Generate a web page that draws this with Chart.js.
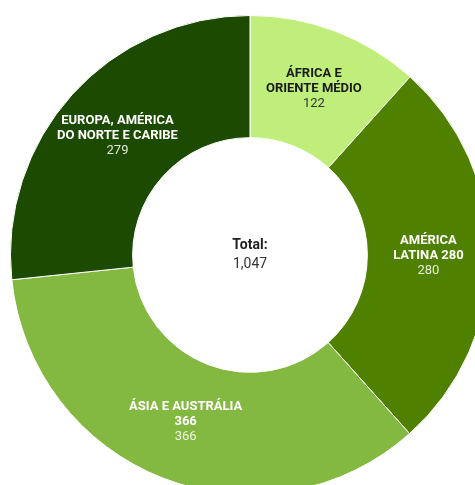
<!DOCTYPE html>
<html>
<head>
<meta charset="utf-8">
<script src="https://cdn.jsdelivr.net/npm/chart.js@4/dist/chart.umd.min.js"></script>
<style>
  html, body { margin: 0; padding: 0; background: #ffffff; overflow: hidden; }
  #wrap { position: absolute; left: 0; top: 0; width: 500px; height: 510px; }
</style>
</head>
<body>
<div id="wrap"><canvas id="chart" width="500" height="510"></canvas></div>
<script>
// Regions (label lines) and their values
const regionNames = [
  ["ÁFRICA E", "ORIENTE MÉDIO"],
  ["AMÉRICA", "LATINA 280"],
  ["ÁSIA E AUSTRÁLIA", "366"],
  ["EUROPA, AMÉRICA", "DO NORTE E CARIBE"]
];
const regionValues = [122, 280, 366, 279];
const regionColors = ["#bfee7b", "#508000", "#84b941", "#1b4a00"];
const nameColors = ["#1a1a1a", "#ffffff", "#ffffff", "#ffffff"];
const valueColors = ["#333333", "rgba(255,255,255,0.85)", "rgba(255,255,255,0.85)", "rgba(255,255,255,0.85)"];
const totalLabel = "Total:";

const FONT = "Roboto, 'Liberation Sans', sans-serif";

// Draws the region names and values on each slice, plus the total in the hole
const sliceLabels = {
  id: "sliceLabels",
  afterDatasetsDraw(chart) {
    const ctx = chart.ctx;
    const meta = chart.getDatasetMeta(0);
    const ds = chart.data.datasets[0];
    ctx.save();
    ctx.textAlign = "center";
    ctx.textBaseline = "middle";
    meta.data.forEach((arc, i) => {
      const p = arc.tooltipPosition();
      const lines = regionNames[i].map(t => ({ t, bold: true, c: nameColors[i] }));
      lines.push({ t: ds.data[i].toLocaleString("en-US"), bold: false, c: valueColors[i] });
      const lh = 15;
      const y0 = p.y - (lines.length - 1) * lh / 2;
      lines.forEach((l, k) => {
        ctx.font = (l.bold ? "bold " : "") + "13px " + FONT;
        ctx.fillStyle = l.c;
        ctx.fillText(l.t, p.x, y0 + k * lh);
      });
    });
    const total = ds.data.reduce((a, b) => a + b, 0);
    const c = meta.data[0];
    ctx.fillStyle = "#222222";
    ctx.font = "bold 14px " + FONT;
    ctx.fillText(totalLabel, c.x, c.y - 10);
    ctx.fillStyle = "#333333";
    ctx.font = "14px " + FONT;
    ctx.fillText(total.toLocaleString("en-US"), c.x, c.y + 9);
    ctx.restore();
  }
};

new Chart(document.getElementById("chart"), {
  type: "doughnut",
  data: {
    labels: regionNames.map(n => n.join(" ")),
    datasets: [{
      data: regionValues,
      backgroundColor: regionColors,
      borderColor: "#ffffff",
      borderWidth: 1
    }]
  },
  options: {
    responsive: false,
    animation: false,
    cutout: "49%",
    layout: { padding: 10 },
    plugins: {
      legend: { display: false },
      tooltip: { enabled: false }
    }
  },
  plugins: [sliceLabels]
});
</script>
</body>
</html>
